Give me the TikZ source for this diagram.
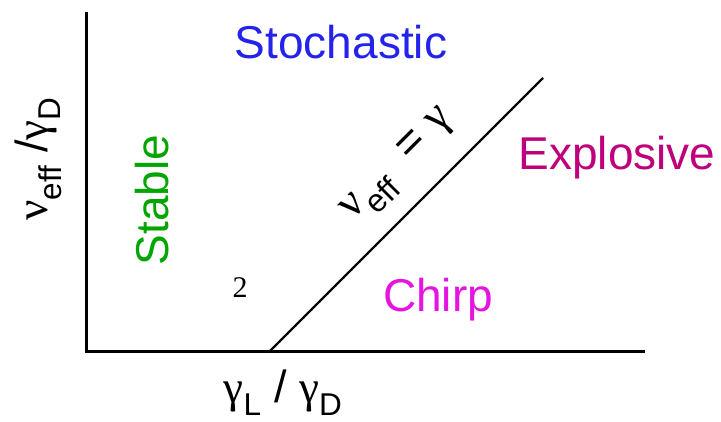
\documentclass[tikz,border=0pt]{standalone}
\usepackage{fontspec}
\setmainfont{Liberation Sans}
\newfontfamily\grk{Liberation Serif}
\definecolor{stochblue}{RGB}{35,35,235}
\definecolor{explmag}{RGB}{190,0,125}
\definecolor{chirpmag}{RGB}{230,20,225}
\definecolor{stabgreen}{RGB}{0,165,0}
\tikzset{
  region/.style={font=\fontsize{46}{50}\selectfont, inner sep=0pt},
  axlabel/.style={font=\fontsize{45}{48}\selectfont, inner sep=0pt},
}
\begin{document}
\begin{tikzpicture}[x=1pt,y=-1pt]
  \useasboundingbox (0,0) rectangle (721,421);
  % axes
  \coordinate (top) at (86,12);
  \coordinate (orig) at (86,351);
  \coordinate (right) at (645,351);
  \draw[line width=3pt] (top) -- (orig) -- (right);
  % boundary
  \coordinate (bstart) at (270,351);
  \coordinate (bend) at (543,78);
  \draw[line width=2.4pt] (bstart) -- (bend)
    node[pos=0.575, above=18pt, sloped, axlabel, font=\fontsize{46}{50}\selectfont]
    (blab) {{\grk ν}\textsubscript{eff}\ \ = {\grk γ}};
  % regions
  \node[region, text=stochblue] (stoch) at (341,42) {Stochastic};
  \node[region, text=explmag] (expl) at (617,158) {Explosive};
  \node[region, text=chirpmag] (chirp) at (438,300) {Chirp};
  \node[region, text=stabgreen, rotate=90] (stab) at (152,200) {Stable};
  \node[font=\fontsize{30}{32}\selectfont\grk, inner sep=0pt] (two) at (240,288) {2};
  % axis labels
  \node[axlabel, rotate=90] (ylab) at (38,159) {{\grk ν}\textsubscript{eff} /{\grk γ}\textsubscript{D}};
  \node[axlabel] (xlab) at (283,393) {{\grk γ}\textsubscript{L} / {\grk γ}\textsubscript{D}};
\end{tikzpicture}
\end{document}
